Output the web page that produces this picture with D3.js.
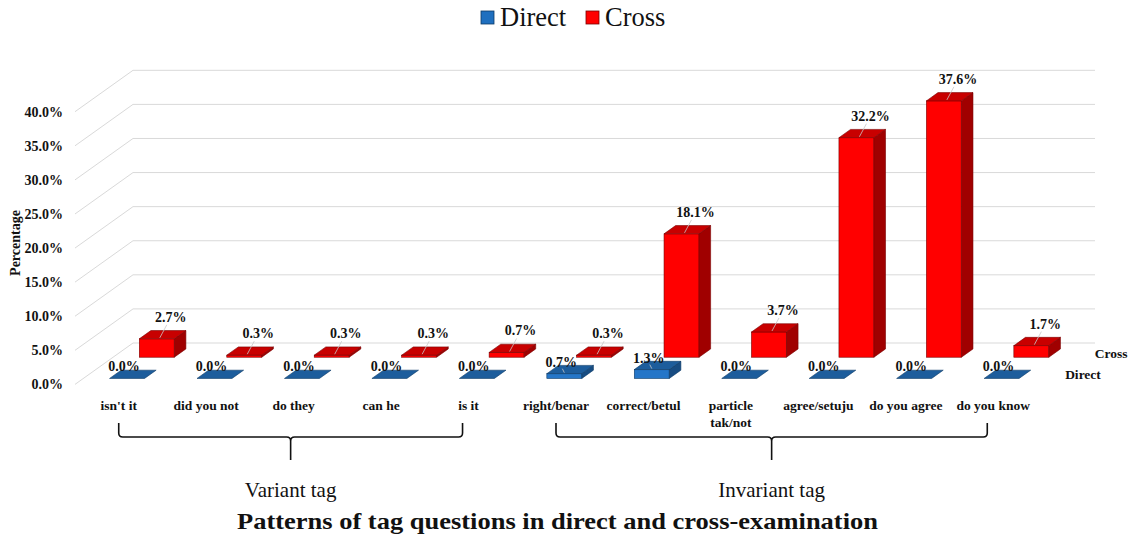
<!DOCTYPE html>
<html>
<head>
<meta charset="utf-8">
<script src="https://cdn.jsdelivr.net/npm/d3@7"></script>
<style>
  html, body { margin: 0; padding: 0; background: #ffffff; }
  svg { display: block; }
  text { font-family: "Liberation Serif", "Times New Roman", serif; fill: #111; }
</style>
</head>
<body>
<div id="chart"></div>
<script>
// ---------------- data ----------------
const categories = ["isn't it", "did you not", "do they", "can he", "is it",
  "right/benar", "correct/betul", "particle\ntak/not", "agree/setuju", "do you agree", "do you know"];
const seriesNames = ["Direct", "Cross"];
const directValues = [0.0, 0.0, 0.0, 0.0, 0.0, 0.7, 1.3, 0.0, 0.0, 0.0, 0.0];
const crossValues  = [2.7, 0.3, 0.3, 0.3, 0.7, 0.3, 18.1, 3.7, 32.2, 37.6, 1.7];
const yTicks = [0, 5, 10, 15, 20, 25, 30, 35, 40];
const groupNames = ["Variant tag", "Invariant tag"];
const groupFirst = [0, 5];
const groupLast  = [4, 10];
const titleText = "Patterns of tag questions in direct and cross-examination";
const yAxisTitle = "Percentage";

// ---------------- layout ----------------
const W = 1128, H = 540;
const DX = 58, DY = 41.4;          // oblique depth vector (front plane -> back wall)
const colors = {
  Direct: { front: "#2576c8", top: "#1d5d9c", side: "#174c82", stroke: "#0e3a66" },
  Cross:  { front: "#ff0000", top: "#c80000", side: "#a00000", stroke: "#7a0000" }
};

const svg = d3.select("#chart").append("svg").attr("width", W).attr("height", H);

const x = d3.scaleBand().domain(d3.range(categories.length)).range([75, 1037])
  .paddingInner(0.6).paddingOuter(0.3);
const y = d3.scaleLinear().domain([0, 40]).range([384.4, 111.7]);
const z = d3.scaleBand().domain(seriesNames).range([0, 1]).paddingInner(0.61).paddingOuter(0.28);

// ---------------- walls / gridlines ----------------
const grid = svg.append("g");
yTicks.forEach(t => {
  const yf = y(t);
  grid.append("line").attr("x1", x.range()[0]).attr("y1", yf)
    .attr("x2", x.range()[0] + DX).attr("y2", yf - DY)
    .attr("stroke", "#d9d9d9").attr("stroke-width", 1);
  grid.append("line").attr("x1", x.range()[0] + DX).attr("y1", yf - DY)
    .attr("x2", x.range()[1] + DX).attr("y2", yf - DY)
    .attr("stroke", "#d9d9d9").attr("stroke-width", 1);
});

// y tick labels
const fmt = d3.format(".1f");
svg.append("g").selectAll("text").data(yTicks).join("text")
  .attr("x", 63).attr("y", d => y(d)).attr("dy", "0.35em")
  .attr("text-anchor", "end").attr("font-weight", "bold").attr("font-size", 14)
  .text(d => fmt(d) + "%");

svg.append("text").attr("transform", "translate(15,243) rotate(-90)")
  .attr("text-anchor", "middle").attr("dominant-baseline", "central")
  .attr("font-weight", "bold").attr("font-size", 14).text(yAxisTitle);

// ---------------- bars ----------------
function barGeom(i, s, v) {
  const z0 = z(s), dz = z.bandwidth();
  const x0 = x(i) + z0 * DX, x1 = x0 + x.bandwidth();
  const yb = y(0) - z0 * DY, yt = y(v) - z0 * DY;
  return { x0, x1, yb, yt, ddx: dz * DX, ddy: dz * DY };
}
const seriesData = { Direct: directValues, Cross: crossValues };
const barsG = svg.append("g");
["Cross", "Direct"].forEach(s => {
  const c = colors[s];
  const g = barsG.append("g");
  seriesData[s].forEach((v, i) => {
    const b = barGeom(i, s, v);
    const bar = g.append("g");
    if (b.yb - b.yt > 0.1) {
      bar.append("rect").attr("x", b.x0).attr("y", b.yt).attr("width", b.x1 - b.x0)
        .attr("height", b.yb - b.yt).attr("fill", c.front).attr("stroke", c.stroke).attr("stroke-width", 0.6);
      bar.append("path").attr("d", `M${b.x1},${b.yt}L${b.x1 + b.ddx},${b.yt - b.ddy}L${b.x1 + b.ddx},${b.yb - b.ddy}L${b.x1},${b.yb}Z`)
        .attr("fill", c.side).attr("stroke", c.stroke).attr("stroke-width", 0.6);
    }
    bar.append("path").attr("d", `M${b.x0},${b.yt}L${b.x1},${b.yt}L${b.x1 + b.ddx},${b.yt - b.ddy}L${b.x0 + b.ddx},${b.yt - b.ddy}Z`)
      .attr("fill", c.top).attr("stroke", c.stroke).attr("stroke-width", 0.6);
  });
});

// ---------------- data labels ----------------
const labG = svg.append("g");
["Cross", "Direct"].forEach(s => {
  seriesData[s].forEach((v, i) => {
    const b = barGeom(i, s, v);
    const cx = (b.x0 + b.x1) / 2;
    let lx, ly;
    if (s === "Cross") {
      lx = cx + 14; ly = b.yt - 17;
      labG.append("line").attr("x1", cx + 3).attr("y1", b.yt - 1)
        .attr("x2", lx - 4).attr("y2", ly + 3)
        .attr("stroke", "#c8c8c8").attr("stroke-width", 0.8);
    } else {
      lx = cx - 3; ly = b.yt - 7;
      if (v > 0) {
        labG.append("line").attr("x1", cx).attr("y1", b.yt - 1)
          .attr("x2", cx - 2).attr("y2", ly + 2)
          .attr("stroke", "#c8c8c8").attr("stroke-width", 0.8);
      }
    }
    labG.append("text").attr("x", lx).attr("y", ly).attr("text-anchor", "middle")
      .attr("font-weight", "bold").attr("font-size", 14).text(fmt(v) + "%");
  });
});

// depth (series) axis labels
svg.append("g").selectAll("text").data(seriesNames).join("text")
  .attr("x", d => x.range()[1] + (z(d) + z.bandwidth() / 2) * DX + 14)
  .attr("y", d => y(0) - (z(d) + z.bandwidth() / 2) * DY)
  .attr("dy", "0.35em").attr("font-weight", "bold").attr("font-size", 13.5)
  .text(d => d);

// category labels
const catG = svg.append("g");
categories.forEach((c, i) => {
  const t = catG.append("text").attr("x", x(i) + x.bandwidth() / 2).attr("y", 410)
    .attr("text-anchor", "middle").attr("font-weight", "bold").attr("font-size", 13.5);
  c.split("\n").forEach((line, k) => {
    t.append("tspan").attr("x", x(i) + x.bandwidth() / 2).attr("dy", k === 0 ? 0 : 17).text(line);
  });
});

// ---------------- braces ----------------
const braceG = svg.append("g");
groupNames.forEach((name, gi) => {
  const xa = x(groupFirst[gi]) + x.bandwidth() / 2;
  const xb = x(groupLast[gi]) + x.bandwidth() / 2 - 6;
  const xm = (xa + xb) / 2;
  const yTop = 423, yLine = 437, yTip = 460, r = 4;
  const d = `M${xa},${yTop}L${xa},${yLine - r}Q${xa},${yLine} ${xa + r},${yLine}` +
    `L${xm - r},${yLine}Q${xm},${yLine} ${xm},${yLine + r}L${xm},${yTip}` +
    `M${xm},${yLine + r}Q${xm},${yLine} ${xm + r},${yLine}L${xb - r},${yLine}Q${xb},${yLine} ${xb},${yLine - r}L${xb},${yTop}`;
  braceG.append("path").attr("d", d).attr("fill", "none").attr("stroke", "#111").attr("stroke-width", 1.6);
  braceG.append("text").attr("x", xm).attr("y", 497).attr("text-anchor", "middle")
    .attr("font-size", 21).text(name);
});

// ---------------- legend ----------------
const legend = svg.append("g");
const legX = [481, 586];
seriesNames.forEach((s, k) => {
  legend.append("rect").attr("x", legX[k]).attr("y", 11).attr("width", 13).attr("height", 13)
    .attr("fill", s === "Direct" ? "#1f6fbf" : "#ff0000").attr("stroke", colors[s].stroke).attr("stroke-width", 0.8);
  legend.append("text").attr("x", legX[k] + 19).attr("y", 25.5).attr("font-size", 26.5).text(s);
});

// ---------------- title ----------------
svg.append("text").attr("x", 557.5).attr("y", 529).attr("text-anchor", "middle")
  .attr("font-weight", "bold").attr("font-size", 23)
  .attr("textLength", 641).attr("lengthAdjust", "spacingAndGlyphs")
  .text(titleText);
</script>
</body>
</html>
